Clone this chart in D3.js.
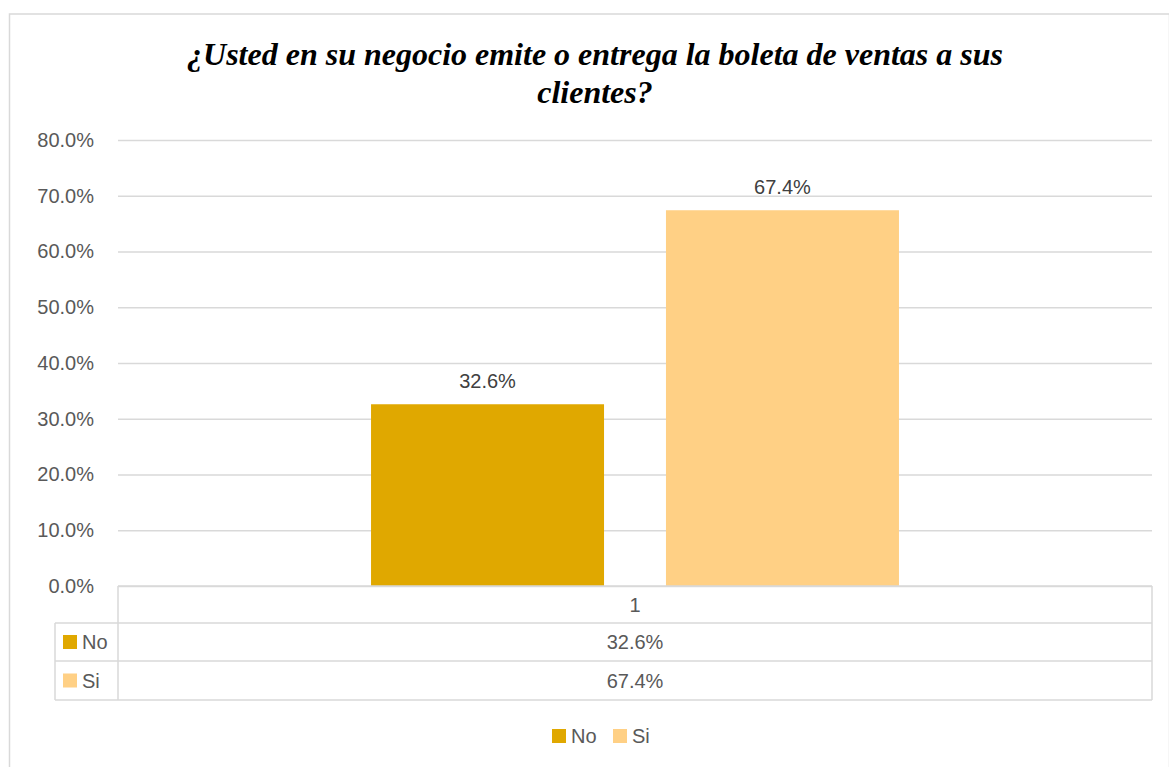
<!DOCTYPE html>
<html>
<head>
<meta charset="utf-8">
<script src="https://cdn.jsdelivr.net/npm/d3@7"></script>
<style>
  body { margin: 0; background: #fff; }
  text { font-family: "Liberation Sans", Arial, sans-serif; }
</style>
</head>
<body>
<div class="chart-wrapper"></div>
<script>
var width = 1169, height = 767;

// data
var categories = ["1"];
var seriesNames = ["No", "Si"];
var seriesValues = [0.326, 0.674];
var seriesColors = ["#e0a800", "#ffd085"];
var yTicks = [0, 0.1, 0.2, 0.3, 0.4, 0.5, 0.6, 0.7, 0.8];

var plot = { left: 118, right: 1152, top: 140, bottom: 586 };
var fontSize = "20px";

var svg = d3.select(".chart-wrapper").append("svg")
  .attr("width", width)
  .attr("height", height);

// outer chart border
svg.append("rect")
  .attr("x", 9.5).attr("y", 14)
  .attr("width", 1160).attr("height", 780)
  .attr("fill", "none")
  .attr("stroke", "#d9d9d9")
  .attr("stroke-width", 1.5);

// title
var title = svg.append("text")
  .attr("text-anchor", "middle")
  .style("font-family", "'Liberation Serif', 'Times New Roman', serif")
  .style("font-weight", "bold")
  .style("font-style", "italic")
  .style("font-size", "32px")
  .attr("fill", "#000");
title.append("tspan").attr("x", 595).attr("y", 65)
  .text("¿Usted en su negocio emite o entrega la boleta de ventas a sus");
title.append("tspan").attr("x", 595).attr("y", 103)
  .text("clientes?");

var y = d3.scaleLinear()
  .domain([0, 0.8])
  .range([plot.bottom, plot.top]);

var x0 = d3.scaleBand()
  .domain(categories)
  .range([plot.left, plot.right])
  .padding(0.324);

var x1 = d3.scaleBand()
  .domain(seriesNames)
  .range([0, x0.bandwidth()])
  .paddingInner(0.21);

// gridlines
var yAxis = d3.axisLeft(y)
  .tickValues(yTicks)
  .tickSize(-(plot.right - plot.left))
  .tickPadding(24)
  .tickFormat(d3.format(".1%"));

var gAxis = svg.append("g")
  .attr("transform", "translate(" + plot.left + ",0)")
  .call(yAxis);
gAxis.select(".domain").remove();
gAxis.selectAll(".tick line")
  .attr("stroke", "#d9d9d9")
  .attr("stroke-width", 1.5);
gAxis.selectAll(".tick text")
  .attr("fill", "#595959")
  .style("font-size", fontSize)
  .style("font-family", "'Liberation Sans', Arial, sans-serif");

// bars
var bars = svg.append("g");
categories.forEach(function (c) {
  bars.selectAll("rect")
    .data(seriesNames)
    .join("rect")
    .attr("x", function (d) { return x0(c) + x1(d); })
    .attr("y", function (d, i) { return y(seriesValues[i]); })
    .attr("width", x1.bandwidth())
    .attr("height", function (d, i) { return y(0) - y(seriesValues[i]); })
    .attr("fill", function (d, i) { return seriesColors[i]; });

  svg.append("g").selectAll("text")
    .data(seriesNames)
    .join("text")
    .attr("x", function (d) { return x0(c) + x1(d) + x1.bandwidth() / 2; })
    .attr("y", function (d, i) { return y(seriesValues[i]) - 16; })
    .attr("text-anchor", "middle")
    .attr("fill", "#404040")
    .style("font-size", fontSize)
    .text(function (d, i) { return d3.format(".1%")(seriesValues[i]); });
});

// data table
var rowY = [plot.bottom, 623, 661, 700];
var labelLeft = 55;
var lineColor = "#d9d9d9";
var table = svg.append("g")
  .attr("stroke", lineColor)
  .attr("stroke-width", 1.5)
  .attr("fill", "none");

table.append("line")
  .attr("x1", plot.left).attr("x2", plot.right)
  .attr("y1", rowY[0]).attr("y2", rowY[0]);
table.append("line")
  .attr("x1", plot.left).attr("x2", plot.left)
  .attr("y1", rowY[0]).attr("y2", rowY[3]);
table.append("line")
  .attr("x1", plot.right).attr("x2", plot.right)
  .attr("y1", rowY[0]).attr("y2", rowY[3]);
table.append("line")
  .attr("x1", labelLeft).attr("x2", labelLeft)
  .attr("y1", rowY[1]).attr("y2", rowY[3]);
[1, 2, 3].forEach(function (i) {
  table.append("line")
    .attr("x1", labelLeft).attr("x2", plot.right)
    .attr("y1", rowY[i]).attr("y2", rowY[i]);
});

var cx = x0(categories[0]) + x0.bandwidth() / 2;
svg.append("text")
  .attr("x", cx).attr("y", (rowY[0] + rowY[1]) / 2 + 7)
  .attr("text-anchor", "middle")
  .attr("fill", "#595959")
  .style("font-size", fontSize)
  .text(categories[0]);

seriesNames.forEach(function (s, i) {
  var ym = (rowY[i + 1] + rowY[i + 2]) / 2;
  svg.append("rect")
    .attr("x", 63).attr("y", ym - 7)
    .attr("width", 14).attr("height", 14)
    .attr("fill", seriesColors[i]);
  svg.append("text")
    .attr("x", 82).attr("y", ym + 7)
    .attr("fill", "#595959")
    .style("font-size", fontSize)
    .text(s);
  svg.append("text")
    .attr("x", cx).attr("y", ym + 7)
    .attr("text-anchor", "middle")
    .attr("fill", "#595959")
    .style("font-size", fontSize)
    .text(d3.format(".1%")(seriesValues[i]));
});

// legend
var legendX = [552, 613];
var legend = svg.append("g");
seriesNames.forEach(function (s, i) {
  legend.append("rect")
    .attr("x", legendX[i]).attr("y", 729)
    .attr("width", 14).attr("height", 14)
    .attr("fill", seriesColors[i]);
  legend.append("text")
    .attr("x", legendX[i] + 19).attr("y", 743)
    .attr("fill", "#595959")
    .style("font-size", fontSize)
    .text(s);
});
</script>
</body>
</html>
